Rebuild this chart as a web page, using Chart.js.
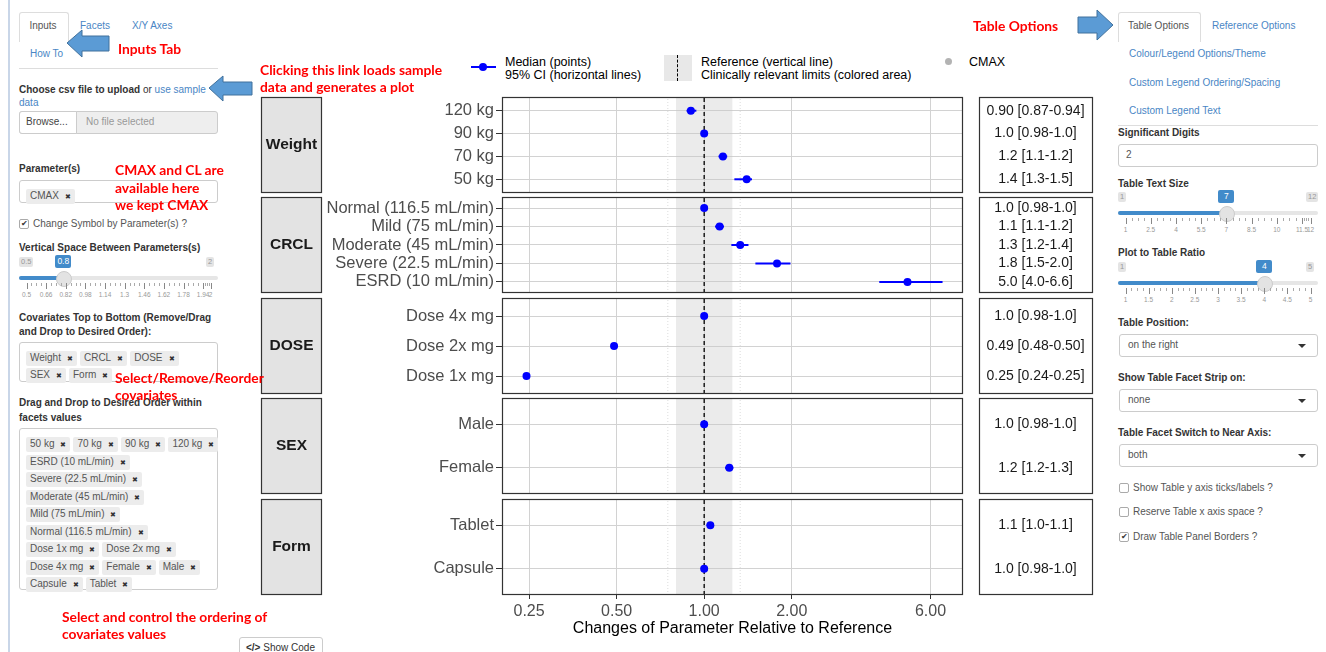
<!DOCTYPE html>
<html>
<head>
<meta charset="utf-8">
<script src="https://cdn.jsdelivr.net/npm/chart.js@4.4.1/dist/chart.umd.min.js"></script>
<style>
body{margin:0;width:1326px;height:652px;overflow:hidden;background:#fff;font-family:"Liberation Sans",Arial,sans-serif;position:relative}
.t{position:absolute;white-space:nowrap;line-height:14px;font-size:10px;color:#333}
.b{font-weight:bold}
.lnk{color:#4a86c5}
.red{position:absolute;z-index:3;white-space:nowrap;color:#f00;font:bold 13.8px Lato,sans-serif;line-height:17px}
.box{position:absolute;border:1px solid #ccc;border-radius:3px;box-sizing:border-box;background:#fff}
.row{position:absolute;left:6px;height:14px;white-space:nowrap}
.chip{display:inline-block;background:#ececec;color:#555;font-size:10px;line-height:14px;padding:0 4px;margin-right:3px;border-radius:2px}
.chip i{font-style:normal;font-size:7px;margin-left:6px;color:#333}
.tab{position:absolute;border:1px solid #ddd;border-bottom:none;border-radius:3px 3px 0 0;background:#fff}
.cb{position:absolute;width:8px;height:8px;border:1px solid #aaa;border-radius:2px;font-size:8px;line-height:8px;text-align:center;color:#333}
.caret{position:absolute;width:0;height:0;border-top:4px solid #333;border-left:4px solid transparent;border-right:4px solid transparent}
.leg{position:absolute;white-space:nowrap;font-size:12.5px;line-height:13px;color:#000}
canvas{position:absolute}
</style>
</head>
<body>
<!-- left sidebar -->
<div style="position:absolute;left:8px;top:0;width:2px;height:652px;background:#c9d6e8"></div>
<div class="tab" style="left:19px;top:12px;width:48px;height:29px"></div>
<div class="t" style="left:19px;width:48px;text-align:center;top:19px;color:#555">Inputs</div>
<div class="t lnk" style="left:80px;top:19px">Facets</div>
<div class="t lnk" style="left:132px;top:19px">X/Y Axes</div>
<div class="t lnk" style="left:30px;top:47px">How To</div>
<div style="position:absolute;left:19px;top:68px;width:199px;height:1px;background:#ddd"></div>

<div class="t" style="left:19px;top:83px"><span class="b">Choose csv file to upload</span> or <span class="lnk">use sample</span></div>
<div class="t lnk" style="left:19px;top:96px">data</div>
<div class="box" style="left:19px;top:111px;width:199px;height:23px;background:#eee"></div>
<div class="box" style="left:19px;top:111px;width:58px;height:23px;border-radius:3px 0 0 3px"></div>
<div class="t" style="left:26px;top:115px;color:#444">Browse...</div>
<div class="t" style="left:86px;top:115px;color:#999">No file selected</div>

<div class="t b" style="left:19px;top:162px">Parameter(s)</div>
<div class="box" style="left:19px;top:180px;width:199px;height:23px"><div class="row" style="top:4px"><span class="chip">CMAX<i>✖</i></span></div></div>
<div class="cb" style="left:19px;top:219px">✔</div>
<div class="t" style="left:33px;top:217px;color:#555">Change Symbol by Parameter(s) ?</div>
<div class="t b" style="left:19px;top:241px">Vertical Space Between Parameters(s)</div>
<div id="sl1"></div>

<div class="t b" style="left:19px;top:311px">Covariates Top to Bottom (Remove/Drag</div>
<div class="t b" style="left:19px;top:325px">and Drop to Desired Order):</div>
<div class="box" style="left:19px;top:342px;width:199px;height:40px">
  <div class="row" style="top:4px"><span class="chip">Weight<i>✖</i></span><span class="chip">CRCL<i>✖</i></span><span class="chip">DOSE<i>✖</i></span></div>
  <div class="row" style="top:21px"><span class="chip">SEX<i>✖</i></span><span class="chip">Form<i>✖</i></span></div>
</div>
<div class="t b" style="left:19px;top:396px">Drag and Drop to Desired Order within</div>
<div class="t b" style="left:19px;top:411px">facets values</div>
<div class="box" style="left:19px;top:428px;width:199px;height:162px">
  <div class="row" style="top:4px"><span class="chip">50 kg<i>✖</i></span><span class="chip">70 kg<i>✖</i></span><span class="chip">90 kg<i>✖</i></span><span class="chip">120 kg<i>✖</i></span></div>
  <div class="row" style="top:21.5px"><span class="chip">ESRD (10 mL/min)<i>✖</i></span></div>
  <div class="row" style="top:39px"><span class="chip">Severe (22.5 mL/min)<i>✖</i></span></div>
  <div class="row" style="top:56.5px"><span class="chip">Moderate (45 mL/min)<i>✖</i></span></div>
  <div class="row" style="top:74px"><span class="chip">Mild (75 mL/min)<i>✖</i></span></div>
  <div class="row" style="top:91.5px"><span class="chip">Normal (116.5 mL/min)<i>✖</i></span></div>
  <div class="row" style="top:109px"><span class="chip">Dose 1x mg<i>✖</i></span><span class="chip">Dose 2x mg<i>✖</i></span></div>
  <div class="row" style="top:126.5px"><span class="chip">Dose 4x mg<i>✖</i></span><span class="chip">Female<i>✖</i></span><span class="chip">Male<i>✖</i></span></div>
  <div class="row" style="top:144px"><span class="chip">Capsule<i>✖</i></span><span class="chip">Tablet<i>✖</i></span></div>
</div>
<div class="box" style="left:239px;top:637px;width:84px;height:24px"></div>
<div class="t" style="left:246px;top:641px;color:#333"><b>&lt;/&gt;</b> Show Code</div>

<!-- right sidebar -->
<div class="tab" style="left:1118px;top:12px;width:81px;height:29px"></div>
<div class="t" style="left:1118px;width:81px;text-align:center;top:19px;color:#555">Table Options</div>
<div class="t lnk" style="left:1212px;top:19px">Reference Options</div>
<div class="t lnk" style="left:1129px;top:47px">Colour/Legend Options/Theme</div>
<div class="t lnk" style="left:1129px;top:76px">Custom Legend Ordering/Spacing</div>
<div class="t lnk" style="left:1129px;top:104px">Custom Legend Text</div>
<div style="position:absolute;left:1118px;top:125px;width:200px;height:1px;background:#ddd"></div>
<div class="t b" style="left:1118px;top:126px">Significant Digits</div>
<div class="box" style="left:1118px;top:144px;width:200px;height:23px"></div>
<div class="t" style="left:1126px;top:148px;color:#555">2</div>
<div class="t b" style="left:1118px;top:177px">Table Text Size</div>
<div id="sl2"></div>
<div class="t b" style="left:1118px;top:246px">Plot to Table Ratio</div>
<div id="sl3"></div>
<div class="t b" style="left:1118px;top:316px">Table Position:</div>
<div class="box" style="left:1119px;top:334px;width:199px;height:23px"></div>
<div class="t" style="left:1128px;top:338px;color:#555">on the right</div>
<div class="caret" style="left:1298px;top:344px"></div>
<div class="t b" style="left:1118px;top:371px">Show Table Facet Strip on:</div>
<div class="box" style="left:1119px;top:389px;width:199px;height:23px"></div>
<div class="t" style="left:1128px;top:393px;color:#555">none</div>
<div class="caret" style="left:1298px;top:399px"></div>
<div class="t b" style="left:1118px;top:426px">Table Facet Switch to Near Axis:</div>
<div class="box" style="left:1119px;top:444px;width:199px;height:23px"></div>
<div class="t" style="left:1128px;top:448px;color:#555">both</div>
<div class="caret" style="left:1298px;top:454px"></div>
<div class="cb" style="left:1119px;top:483px"></div>
<div class="t" style="left:1133px;top:481px;color:#555">Show Table y axis ticks/labels ?</div>
<div class="cb" style="left:1119px;top:507px"></div>
<div class="t" style="left:1133px;top:505px;color:#555">Reserve Table x axis space ?</div>
<div class="cb" style="left:1119px;top:532px">✔</div>
<div class="t" style="left:1133px;top:530px;color:#555">Draw Table Panel Borders ?</div>

<!-- annotations -->
<svg style="position:absolute;left:0;top:0;z-index:3" width="1326" height="652">
  <g fill="#5b9bd5" stroke="#41719c" stroke-width="1">
    <polygon points="67,43 82,30 82,36 109,36 109,51 82,51 82,57"/>
    <polygon points="209,88 223,76 223,82 252,82 252,95 223,95 223,101"/>
    <polygon points="1113,25 1097,10 1097,17 1078,17 1078,33 1097,33 1097,40"/>
  </g>
</svg>
<div class="red" style="left:118px;top:40px">Inputs Tab</div>
<div class="red" style="left:260px;top:61px">Clicking this link loads sample</div>
<div class="red" style="left:260px;top:78px">data and generates a plot</div>
<div class="red" style="left:115px;top:161px">CMAX and CL are</div>
<div class="red" style="left:115px;top:179px">available here</div>
<div class="red" style="left:115px;top:196px">we kept CMAX</div>
<div class="red" style="left:115px;top:369px">Select/Remove/Reorder</div>
<div class="red" style="left:115px;top:386px">covariates</div>
<div class="red" style="left:62px;top:608px">Select and control the ordering of</div>
<div class="red" style="left:62px;top:625px">covariates values</div>
<div class="red" style="left:973px;top:17px">Table Options</div>

<!-- plot legend -->
<div style="position:absolute;left:471px;top:66px;width:25px;height:2px;background:#0000ff"></div>
<div style="position:absolute;left:479px;top:63px;width:8px;height:8px;border-radius:50%;background:#0000ff"></div>
<div class="leg" style="left:505px;top:56px">Median (points)<br>95% CI (horizontal lines)</div>
<div style="position:absolute;left:664px;top:55px;width:28px;height:26px;background:#e8e8e8"></div>
<div style="position:absolute;left:677px;top:55px;width:0;height:26px;border-left:1.5px dashed #000"></div>
<div class="leg" style="left:701px;top:56px">Reference (vertical line)<br>Clinically relevant limits (colored area)</div>
<div style="position:absolute;left:945px;top:58px;width:7px;height:7px;border-radius:50%;background:#b3b3b3"></div>
<div class="leg" style="left:969px;top:56px">CMAX</div>

<script>
// --- data (rows listed top to bottom inside each facet) ---
const facetNames = ['Weight', 'CRCL', 'DOSE', 'SEX', 'Form'];

const weightLevels = ['120 kg', '90 kg', '70 kg', '50 kg'];
const weightMedian = [0.90, 1.00, 1.16, 1.40];
const weightLower  = [0.87, 0.98, 1.12, 1.27];
const weightUpper  = [0.94, 1.02, 1.20, 1.46];
const weightText   = ['0.90 [0.87-0.94]', '1.0 [0.98-1.0]', '1.2 [1.1-1.2]', '1.4 [1.3-1.5]'];

const crclLevels = ['Normal (116.5 mL/min)', 'Mild (75 mL/min)', 'Moderate (45 mL/min)', 'Severe (22.5 mL/min)', 'ESRD (10 mL/min)'];
const crclMedian = [1.00, 1.13, 1.33, 1.78, 5.0];
const crclLower  = [0.98, 1.09, 1.24, 1.50, 4.0];
const crclUpper  = [1.02, 1.17, 1.42, 1.98, 6.6];
const crclText   = ['1.0 [0.98-1.0]', '1.1 [1.1-1.2]', '1.3 [1.2-1.4]', '1.8 [1.5-2.0]', '5.0 [4.0-6.6]'];

const doseLevels = ['Dose 4x mg', 'Dose 2x mg', 'Dose 1x mg'];
const doseMedian = [1.00, 0.49, 0.245];
const doseLower  = [0.98, 0.48, 0.24];
const doseUpper  = [1.02, 0.50, 0.25];
const doseText   = ['1.0 [0.98-1.0]', '0.49 [0.48-0.50]', '0.25 [0.24-0.25]'];

const sexLevels = ['Male', 'Female'];
const sexMedian = [1.00, 1.22];
const sexLower  = [0.98, 1.18];
const sexUpper  = [1.02, 1.26];
const sexText   = ['1.0 [0.98-1.0]', '1.2 [1.2-1.3]'];

const formLevels = ['Tablet', 'Capsule'];
const formMedian = [1.05, 1.00];
const formLower  = [1.02, 0.98];
const formUpper  = [1.08, 1.02];
const formText   = ['1.1 [1.0-1.1]', '1.0 [0.98-1.0]'];

const xTicks = [0.25, 0.5, 1, 2, 6];
const xTickLabels = ['0.25', '0.50', '1.00', '2.00', '6.00'];
const refValue = 1;
const refArea = [0.8, 1.25];
const refDotted = [0.75, 1.33];

const facets = [
  {name: facetNames[0], levels: weightLevels, mid: weightMedian, lo: weightLower, hi: weightUpper, text: weightText},
  {name: facetNames[1], levels: crclLevels, mid: crclMedian, lo: crclLower, hi: crclUpper, text: crclText},
  {name: facetNames[2], levels: doseLevels, mid: doseMedian, lo: doseLower, hi: doseUpper, text: doseText},
  {name: facetNames[3], levels: sexLevels, mid: sexMedian, lo: sexLower, hi: sexUpper, text: sexText},
  {name: facetNames[4], levels: formLevels, mid: formMedian, lo: formLower, hi: formUpper, text: formText},
];

// --- ion-style sliders in the side panels ---
function slider(host, left, y, width, min, max, value, labels) {
  const h = document.getElementById(host);
  const pos = v => left + 7.5 + (v - min) / (max - min) * (width - 15);
  let s = '';
  s += `<div class="t" style="left:${left}px;top:${y - 21}px;font-size:7.5px;line-height:10px;background:#e4e4e4;color:#999;padding:0 2px;border-radius:2px">${min}</div>`;
  s += `<div class="t" style="left:${left + width - 12}px;top:${y - 21}px;font-size:7.5px;line-height:10px;background:#e4e4e4;color:#999;padding:0 2px;border-radius:2px">${max}</div>`;
  s += `<div class="t" style="left:${pos(value) - 8}px;width:16px;text-align:center;top:${y - 23}px;font-size:8.5px;line-height:13px;background:#428bca;color:#fff;border-radius:2px">${value}</div>`;
  s += `<div style="position:absolute;left:${left}px;top:${y - 2}px;width:${width}px;height:4px;background:#e6e6e6;border-radius:2px"></div>`;
  s += `<div style="position:absolute;left:${left}px;top:${y - 2}px;width:${pos(value) - left}px;height:4px;background:#428bca;border-radius:2px"></div>`;
  s += `<div style="position:absolute;left:${pos(value) - 7.5}px;top:${y - 7.5}px;width:14px;height:14px;background:#e3e3e3;border:1px solid #ccc;border-radius:50%"></div>`;
  labels.forEach((v, i) => {
    const x = pos(v);
    s += `<div style="position:absolute;left:${x}px;top:${y + 5}px;width:1px;height:6px;background:#888"></div>`;
    s += `<div class="t" style="left:${x - 12}px;width:24px;text-align:center;top:${y + 12}px;font-size:6.5px;line-height:9px;color:#999">${v}</div>`;
    if (i < labels.length - 1) {
      const nx = pos(labels[i + 1]);
      for (let k = 1; k < 4; k++) {
        const mx = x + (nx - x) * k / 4;
        s += `<div style="position:absolute;left:${mx}px;top:${y + 5}px;width:1px;height:3px;background:#aaa"></div>`;
      }
    }
  });
  h.outerHTML = s;
}
slider('sl1', 19, 278, 199, 0.5, 2, 0.8, [0.5, 0.66, 0.82, 0.98, 1.14, 1.3, 1.46, 1.62, 1.78, 1.94, 2]);
slider('sl2', 1118, 213, 200, 1, 12, 7, [1, 2.5, 4, 5.5, 7, 8.5, 10, 11.5, 12]);
slider('sl3', 1118, 283, 200, 1, 5, 4, [1, 1.5, 2, 2.5, 3, 3.5, 4, 4.5, 5]);

// --- forest plot: one chart per facet ---
const FONT = '"Liberation Sans", Arial, sans-serif';
const panelTops = [97, 197, 298, 398, 499];

function facetPlugin(f) {
  const n = f.levels.length;
  return {
    id: 'facet' + f.name,
    beforeDatasetsDraw(chart) {
      const {ctx, chartArea: a, scales: {x}} = chart;
      const x0 = x.getPixelForValue(refArea[0]);
      const x1 = x.getPixelForValue(refArea[1]);
      ctx.save();
      ctx.fillStyle = 'rgba(200,200,200,0.36)';
      ctx.fillRect(x0, a.top, x1 - x0, a.bottom - a.top);
      ctx.restore();
    },
    afterDraw(chart) {
      const {ctx, chartArea: a, scales: {y}} = chart;
      ctx.save();
      ctx.strokeStyle = '#333';
      ctx.lineWidth = 1.2;
      ctx.strokeRect(a.left + 0.5, a.top + 0.5, a.right - a.left - 1, a.bottom - a.top - 1);
      // strip
      ctx.fillStyle = '#e3e3e3';
      ctx.fillRect(3, a.top, 61, a.bottom - a.top);
      ctx.strokeRect(3.5, a.top + 0.5, 60, a.bottom - a.top - 1);
      ctx.fillStyle = '#1a1a1a';
      ctx.font = 'bold 15.5px ' + FONT;
      ctx.textAlign = 'center';
      ctx.textBaseline = 'middle';
      ctx.fillText(f.name, 33.5, (a.top + a.bottom) / 2);
      // table
      const tx0 = a.right + 16, tx1 = a.right + 129;
      ctx.strokeRect(tx0 + 0.5, a.top + 0.5, tx1 - tx0, a.bottom - a.top - 1);
      ctx.font = '14px ' + FONT;
      f.text.forEach((t, i) => ctx.fillText(t, (tx0 + tx1) / 2, y.getPixelForValue(n - i)));
      ctx.restore();
    }
  };
}

facets.forEach((f, k) => {
  const n = f.levels.length;
  const last = k === facets.length - 1;
  const cv = document.createElement('canvas');
  cv.width = 838;
  cv.height = last ? 152 : 104;
  cv.style.left = '258px';
  cv.style.top = (panelTops[k] - 4) + 'px';
  document.body.appendChild(cv);

  const datasets = [{
    data: f.mid.map((m, i) => ({x: m, y: n - i})),
    backgroundColor: '#0000ff', borderWidth: 0, pointRadius: 4, order: 0
  }];
  f.lo.forEach((lo, i) => datasets.push({
    data: [{x: lo, y: n - i}, {x: f.hi[i], y: n - i}],
    showLine: true, borderColor: '#0000ff', borderWidth: 2, pointRadius: 0, order: 1
  }));
  datasets.push({
    data: [{x: refValue, y: 0.4}, {x: refValue, y: n + 0.6}],
    showLine: true, borderColor: '#000', borderWidth: 1.3, borderDash: [4, 3], pointRadius: 0, order: 2
  });
  refDotted.forEach(v => datasets.push({
    data: [{x: v, y: 0.4}, {x: v, y: n + 0.6}],
    showLine: true, borderColor: '#dcdcdc', borderWidth: 1, borderDash: [1, 2], pointRadius: 0, order: 3
  }));

  new Chart(cv, {
    type: 'scatter',
    data: {datasets},
    plugins: [facetPlugin(f)],
    options: {
      responsive: false,
      animation: false,
      layout: {padding: {left: 64, right: 133, top: 4, bottom: 4}},
      plugins: {legend: {display: false}, tooltip: {enabled: false}},
      scales: {
        x: {
          type: 'logarithmic', min: 0.2018, max: 7.76, bounds: 'data',
          afterBuildTicks: ax => { ax.ticks = xTicks.map(v => ({value: v})); },
          afterFit: ax => { ax.height = last ? 48 : 0; ax.paddingLeft = 0; ax.paddingRight = 0; },
          ticks: {
            display: last, autoSkip: false, maxRotation: 0, padding: 3,
            color: '#4d4d4d', font: {size: 16, family: FONT},
            callback: v => xTickLabels[xTicks.indexOf(v)]
          },
          grid: {color: '#d2d2d2', lineWidth: 1, drawTicks: last, tickLength: 4, tickColor: '#333'},
          border: {display: false},
          title: {
            display: last, text: 'Changes of Parameter Relative to Reference',
            color: '#000', font: {size: 16, family: FONT}, padding: {top: 0, bottom: 5}
          }
        },
        y: {
          type: 'linear', min: 0.4, max: n + 0.6, bounds: 'data',
          afterBuildTicks: ax => { ax.ticks = f.levels.map((_, i) => ({value: n - i})); },
          afterFit: ax => { ax.width = 180; ax.paddingTop = 0; ax.paddingBottom = 0; },
          ticks: {
            autoSkip: false, padding: 2, color: '#4d4d4d', font: {size: 16.5, family: FONT},
            callback: v => f.levels[n - v]
          },
          grid: {color: '#d2d2d2', lineWidth: 1, drawTicks: true, tickLength: 6, tickColor: '#333'},
          border: {display: false}
        }
      }
    }
  });
});
</script>
</body>
</html>
